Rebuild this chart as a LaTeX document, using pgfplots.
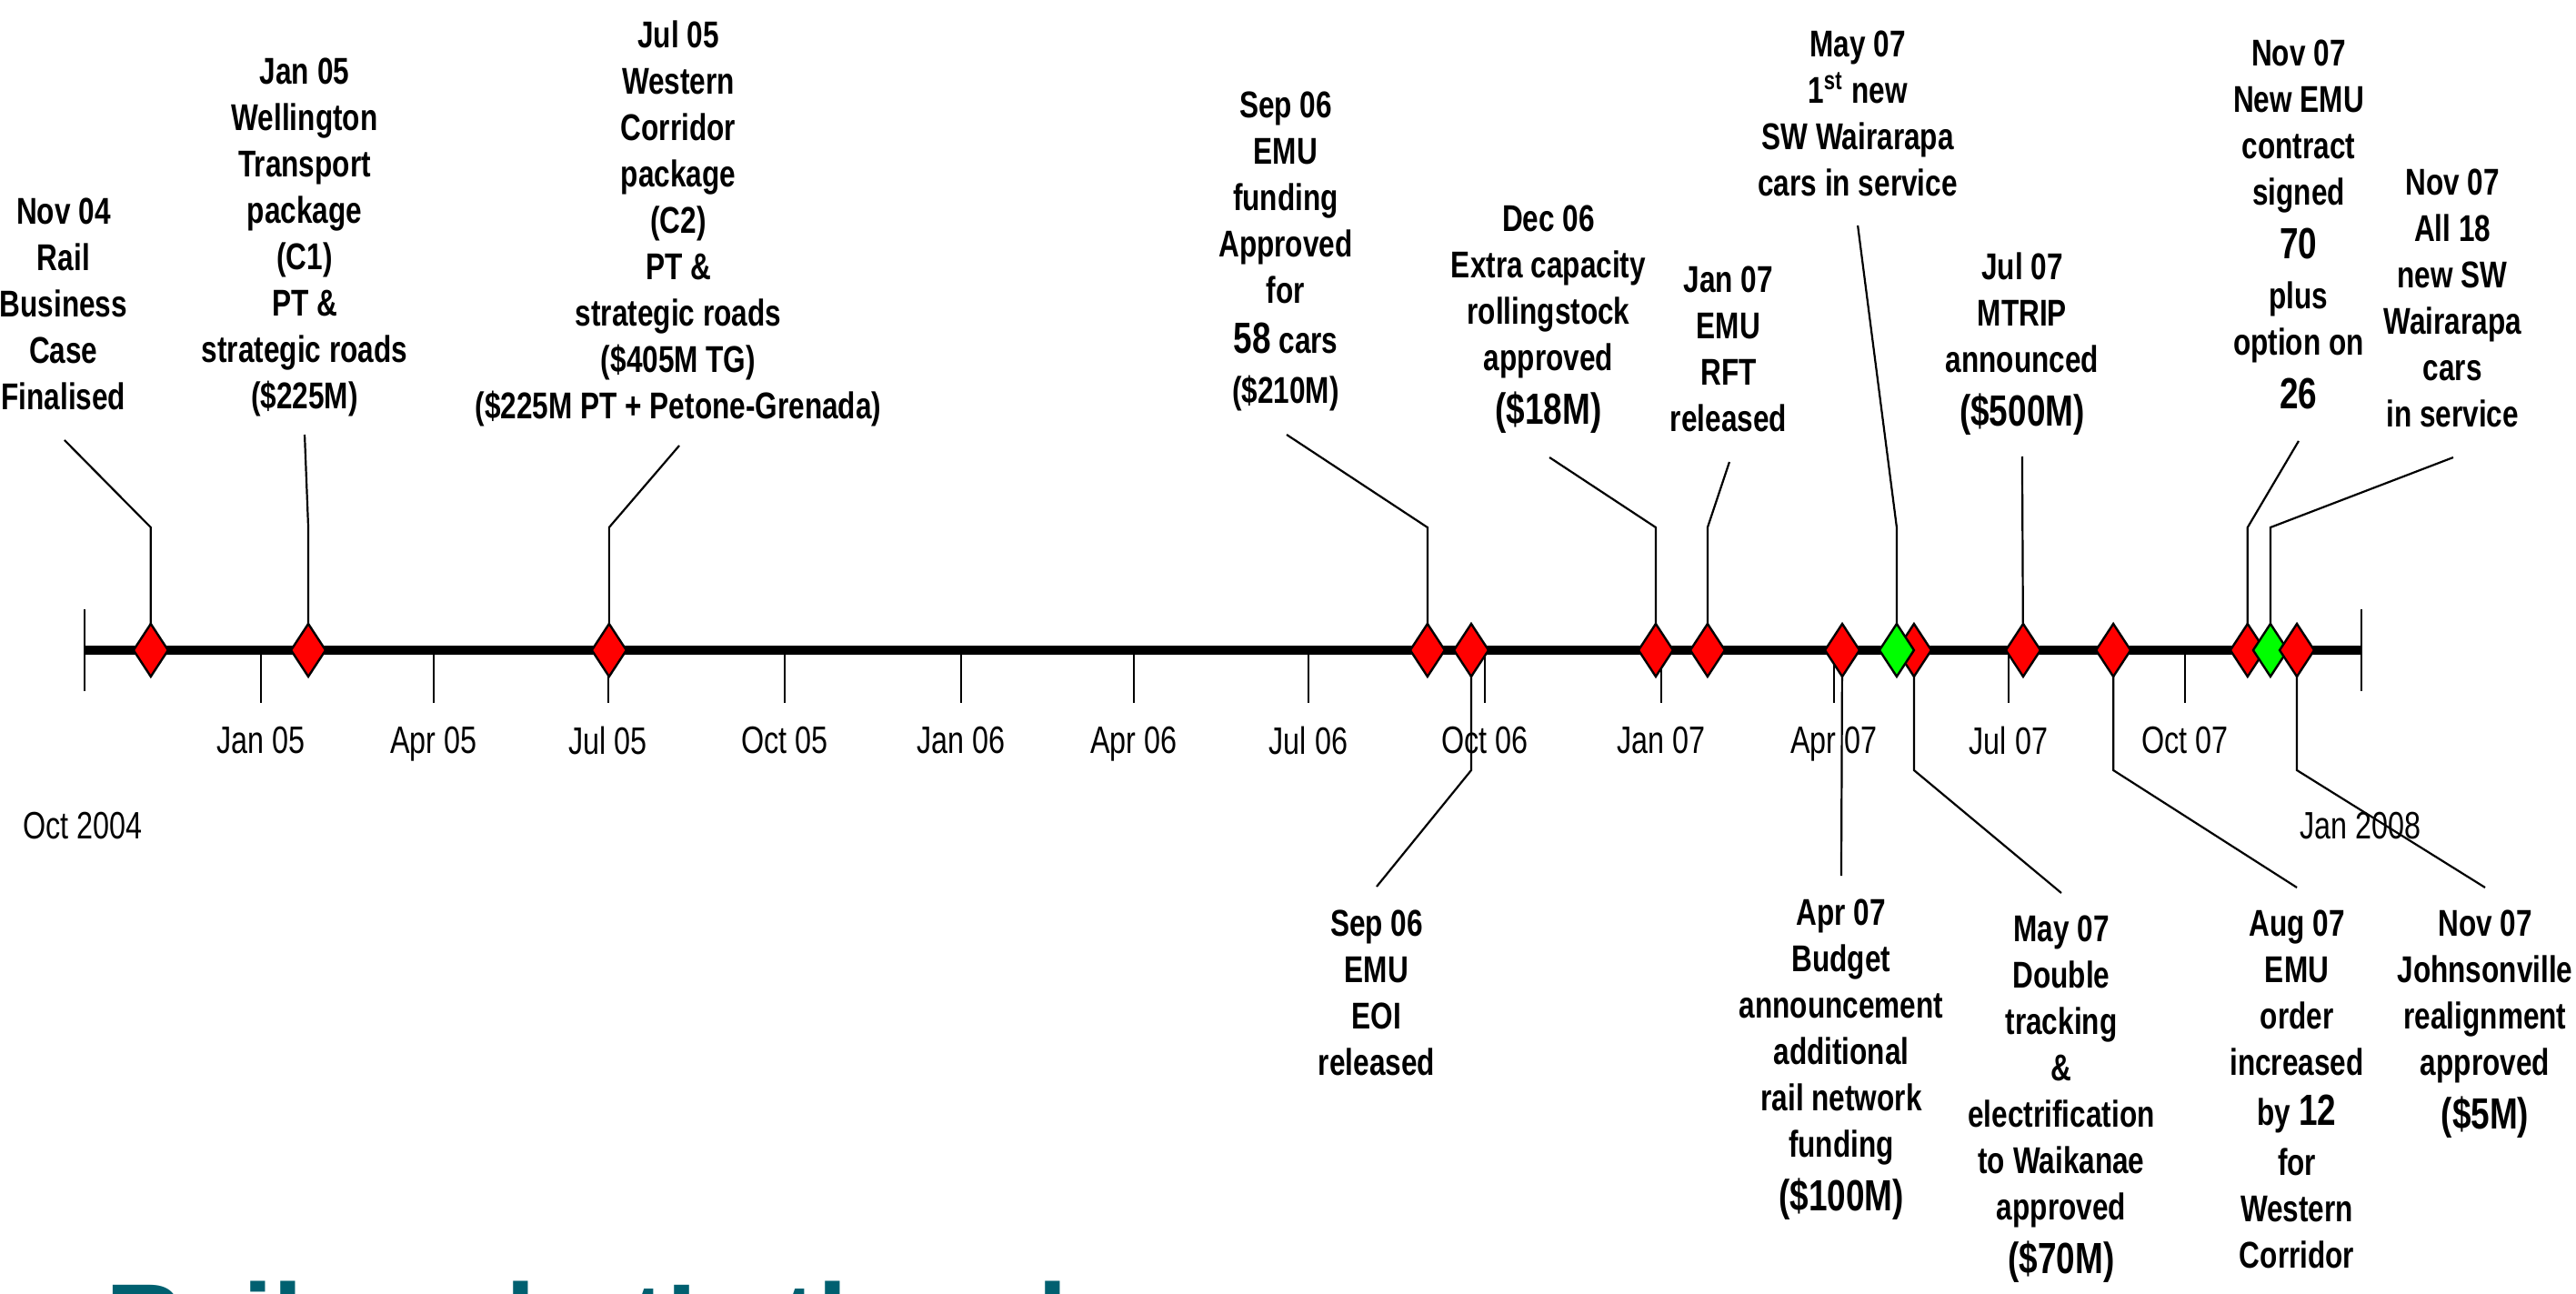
\documentclass[border=0pt]{standalone}
\usepackage{pgfplots}
\pgfplotsset{compat=1.18}
\usepackage{fontspec}
\setmainfont{Liberation Sans}[FakeStretch=0.77]
\newfontfamily\titlefont{Liberation Sans}
\definecolor{titleteal}{RGB}{0,96,112}
\definecolor{dred}{RGB}{255,0,0}
\definecolor{dgreen}{RGB}{0,255,0}
\pgfdeclareplotmark{tdiamond}{%
  \pgfpathmoveto{\pgfqpoint{0pt}{7.25pt}}%
  \pgfpathlineto{\pgfqpoint{4.75pt}{0pt}}%
  \pgfpathlineto{\pgfqpoint{0pt}{-7.25pt}}%
  \pgfpathlineto{\pgfqpoint{-4.75pt}{0pt}}%
  \pgfpathclose
  \pgfusepathqfillstroke}
\newcommand\bg[1]{{\fontsize{12}{12.75}\selectfont #1}}
\tikzset{
  lab/.style={font=\bfseries\fontsize{10.25}{12.75}\selectfont, align=center, inner sep=0pt, anchor=north},
  tl/.style={font=\fontsize{10.5}{12}\selectfont, inner sep=0pt, anchor=north},
  ld/.style={line width=0.55pt, black}
}
\begin{document}
\begin{tikzpicture}
\begin{axis}[name=ax, width=708.25pt, height=355.5pt, scale only axis,
  xmin=-44, xmax=1298.8, ymin=0, ymax=1422, y dir=reverse,
  hide axis, clip=false, unbounded coords=jump]
% month ticks
\addplot[line width=0.5pt] coordinates {(92,715)(92,773) (nan,nan) (182,715)(182,773) (nan,nan)
 (273,715)(273,773) (nan,nan) (365,715)(365,773) (nan,nan) (457,715)(457,773) (nan,nan)
 (547,715)(547,773) (nan,nan) (638,715)(638,773) (nan,nan) (730,715)(730,773) (nan,nan)
 (822,715)(822,773) (nan,nan) (912,715)(912,773) (nan,nan) (1003,715)(1003,773) (nan,nan)
 (1095,715)(1095,773)};
% end ticks
\addplot[line width=0.5pt] coordinates {(0,670)(0,760) (nan,nan) (1187,670)(1187,760)};
% main line
\addplot[line width=2.3pt] coordinates {(0,715)(1187,715)};
% leaders above
\addplot[ld] coordinates {(34.6,715)(34.6,580)(-10.4,484)};
\addplot[ld] coordinates {(116.7,715)(116.7,580)(114.8,478)};
\addplot[ld] coordinates {(273.5,715)(273.5,580)(310.1,490)};
\addplot[ld] coordinates {(700.1,715)(700.1,580)(626.7,478)};
\addplot[ld] coordinates {(819.1,715)(819.1,580)(763.7,503)};
\addplot[ld] coordinates {(846.1,715)(846.1,580)(857.5,508)};
\addplot[ld] coordinates {(944.7,715)(944.7,580)(924.4,248)};
\addplot[ld] coordinates {(1010.6,715)(1010.1,502)};
\addplot[ld] coordinates {(1127.6,715)(1127.6,580)(1154.2,485)};
\addplot[ld] coordinates {(1139.5,715)(1139.5,580)(1234.8,503)};
% leaders below
\addplot[ld] coordinates {(722.9,715)(722.9,847)(673.6,975)};
\addplot[ld] coordinates {(916.3,715)(915.8,963)};
\addplot[ld] coordinates {(953.7,715)(953.7,847)(1030.5,982)};
\addplot[ld] coordinates {(1057.6,715)(1057.6,847)(1153.3,976)};
\addplot[ld] coordinates {(1153.3,715)(1153.3,847)(1251.4,976)};
% milestones
\addplot[only marks, mark=tdiamond,
  mark options={fill=dred, draw=black, line width=0.6pt}]
  coordinates {(34.6,715)(116.7,715)(273.5,715)(700.1,715)(722.9,715)(819.1,715)
  (846.1,715)(916.3,715)(953.7,715)(1010.6,715)(1057.6,715)(1127.6,715)};
\addplot[only marks, mark=tdiamond,
  mark options={fill=dgreen, draw=black, line width=0.6pt}]
  coordinates {(944.7,715)(1139.5,715)};
\addplot[only marks, mark=tdiamond,
  mark options={fill=dred, draw=black, line width=0.6pt}]
  coordinates {(1153.3,715)};
% tick labels
\node[tl] at (axis cs:92,798) {Jan 05};
\node[tl] at (axis cs:182,798) {Apr 05};
\node[tl] at (axis cs:273,798) {Jul 05};
\node[tl] at (axis cs:365,798) {Oct 05};
\node[tl] at (axis cs:457,798) {Jan 06};
\node[tl] at (axis cs:547,798) {Apr 06};
\node[tl] at (axis cs:638,798) {Jul 06};
\node[tl] at (axis cs:730,798) {Oct 06};
\node[tl] at (axis cs:822,798) {Jan 07};
\node[tl] at (axis cs:912,798) {Apr 07};
\node[tl] at (axis cs:1003,798) {Jul 07};
\node[tl] at (axis cs:1095,798) {Oct 07};
\node[tl] at (axis cs:-0.8,892) {Oct 2004};
\node[tl] at (axis cs:1186.5,892) {Jan 2008};
% labels above
\node[lab] at (axis cs:-10.9,217) {Nov 04\\Rail\\Business\\Case\\Finalised};
\node[lab] at (axis cs:114.8,63) {Jan 05\\Wellington\\Transport\\package\\(C1)\\PT \&\\strategic roads\\(\$225M)};
\node[lab] at (axis cs:309.6,22) {Jul 05\\Western\\Corridor\\package\\(C2)\\PT \&\\strategic roads\\(\$405M TG)\\(\$225M PT + Petone-Grenada)};
\node[lab] at (axis cs:626.2,100) {Sep 06\\EMU\\funding\\Approved\\for\\[1pt]\bg{58} cars\\[1pt](\$210M)};
\node[lab] at (axis cs:763.2,225) {Dec 06\\Extra capacity\\rollingstock\\approved\\[2pt]\bg{(\$18M)}};
\node[lab] at (axis cs:857.0,292) {Jan 07\\EMU\\RFT\\released};
\node[lab] at (axis cs:924.4,33) {May 07\\1\textsuperscript{st} new\\SW Wairarapa\\cars in service};
\node[lab] at (axis cs:1010.1,277) {Jul 07\\MTRIP\\announced\\[2pt]\bg{(\$500M)}};
\node[lab] at (axis cs:1154.2,43) {Nov 07\\New EMU\\contract\\signed\\[2pt]\bg{70}\\[1pt]plus\\option on\\[2pt]\bg{26}};
\node[lab] at (axis cs:1234.4,185) {Nov 07\\All 18\\new SW\\Wairarapa\\cars\\in service};
% labels below
\node[lab] at (axis cs:673.6,1000) {Sep 06\\EMU\\EOI\\released};
\node[lab] at (axis cs:915.8,988) {Apr 07\\Budget\\announcement\\additional\\rail network\\funding\\[2pt]\bg{(\$100M)}};
\node[lab] at (axis cs:1030.5,1006) {May 07\\Double\\tracking\\\&\\electrification\\to Waikanae\\approved\\[2pt]\bg{(\$70M)}};
\node[lab] at (axis cs:1153.3,1000) {Aug 07\\EMU\\order\\increased\\[1pt]by \bg{12}\\[1pt]for\\Western\\Corridor};
\node[lab] at (axis cs:1251.4,1000) {Nov 07\\Johnsonville\\realignment\\approved\\[2pt]\bg{(\$5M)}};
% title (mostly below the visible area)
\node[anchor=base west, inner sep=0pt, text=titleteal,
  font=\titlefont\bfseries\fontsize{29.5}{32}\selectfont] at (axis cs:10.95,1494) {Rail – what’s the plan};
\end{axis}
\pgfresetboundingbox
\path[use as bounding box] (ax.south west) rectangle (ax.north east);
\end{tikzpicture}
\end{document}
